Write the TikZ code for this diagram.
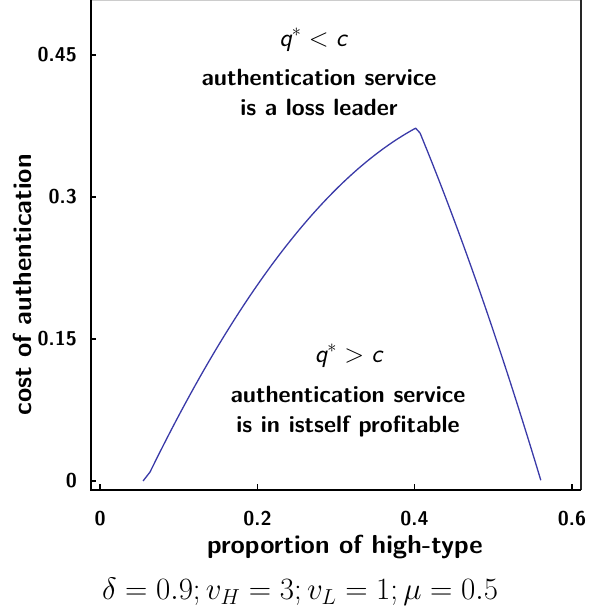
\RequirePackage{fix-cm}
\documentclass[tikz,border=0pt]{standalone}
\usepackage{fontspec}
\definecolor{curveblue}{RGB}{58,58,168}
\tikzset{
  axisline/.style={line width=1.8pt, black},
  tickline/.style={line width=1.2pt, black},
  ticklab/.style={font=\sffamily\bfseries\fontsize{20}{24}\selectfont, inner sep=0pt},
  axislab/.style={font=\sffamily\bfseries\fontsize{26}{30}\selectfont, inner sep=0pt},
  regiontext/.style={font=\sffamily\bfseries\fontsize{23.5}{30}\selectfont, align=center, inner sep=0pt},
  condtext/.style={font=\sffamily\fontsize{26}{30}\selectfont, inner sep=0pt},
  curve/.style={line width=1.3pt, curveblue, line join=round}
}
\begin{document}
\begin{tikzpicture}[x=1pt,y=-1pt]
\useasboundingbox (0,0) rectangle (589,615);
% frame corners
\coordinate (tl) at (91,0.5);
\coordinate (bl) at (91,490);
\coordinate (br) at (581,490);
\coordinate (tr) at (581,0.5);
\draw[gray!40, line width=1pt] (tl) -- (tr);
\draw[line width=1.4pt, black!85] (tr) -- (br);
% y ticks
\foreach \yy/\lab/\nm in {481/0/ya, 339/0.15/yb, 197/0.3/yc, 55/0.45/yd}{
  \coordinate (\nm0) at (91,\yy);
  \coordinate (\nm1) at (96,\yy);
  \draw[tickline] (\nm0) -- (\nm1);
  \node[ticklab, anchor=east] (\nm l) at (77,\yy) {\lab};
}
% x ticks
\foreach \xx/\lab/\nm in {100/0/xa, 257.5/0.2/xb, 414.5/0.4/xc, 572/0.6/xd}{
  \coordinate (\nm0) at (\xx,490);
  \coordinate (\nm1) at (\xx,484);
  \draw[tickline] (\nm0) -- (\nm1);
  \node[ticklab] (\nm l) at (\xx,519) {\lab};
}
\draw[axisline] (tl) -- (bl) -- (br);
% curve in data coordinates
\begin{scope}[shift={(100,481)}, x=786.7pt, y=946.7pt]
\draw[curve] (0.0547,0) -- (0.0636,0.0095)
  -- plot[domain=0.0636:0.4017, samples=60, variable=\t] (\t, {0.0095+1.4345*(\t-0.0636)-1.849*(\t-0.0636)*(\t-0.2072)})
  -- plot[domain=0.4068:0.5606, samples=40, variable=\t] (\t, {0.3676-2.2425*(\t-0.4068)-2.42*(\t-0.4068)*(\t-0.4996)});
\end{scope}
% labels
\node[condtext] (c1) at (313,40) {{\itshape q}${}^{*} < {}${\itshape c}};
\node[regiontext] (r1) at (319,92) {authentication service\\is a loss leader};
\node[condtext] (c2) at (348.5,356) {{\itshape q}${}^{*} > {}${\itshape c}};
\node[regiontext] (r2) at (348,412) {authentication service\\is in istself profitable};
\node[axislab] (xl) at (345,547) {proportion of high-type};
\node[axislab, rotate=90] (yl) at (22,285) {cost of authentication};
\node[font=\fontsize{31}{36}\selectfont, inner sep=0pt] (par) at (300,592) {$\delta=0.9;v_H=3;v_L=1;\mu=0.5$};
\end{tikzpicture}
\end{document}
